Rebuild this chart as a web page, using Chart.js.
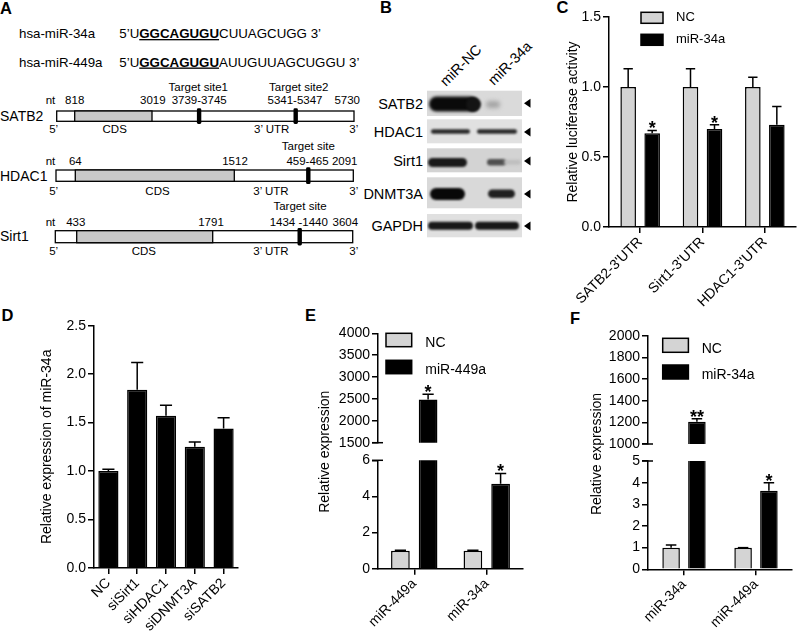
<!DOCTYPE html>
<html>
<head>
<meta charset="utf-8">
<script src="https://cdn.jsdelivr.net/npm/chart.js@4.4.1/dist/chart.umd.min.js"></script>
<style>
  html, body { margin: 0; padding: 0; background: #fff; }
  #fig { position: relative; width: 800px; height: 633px; overflow: hidden; font-family: "Liberation Sans", Arial, sans-serif; }
  #fig canvas, #fig svg { position: absolute; }
</style>
</head>
<body>
<div id="fig">
<svg width="800" height="633" style="left:0;top:0" font-family="Liberation Sans, Arial, sans-serif" fill="#000">
  <!-- panel letters -->
  <g font-size="16.5" font-weight="bold">
    <text x="0" y="13.5">A</text>
    <text x="380" y="13.3">B</text>
    <text x="556.5" y="13.3">C</text>
    <text x="1.5" y="321">D</text>
    <text x="305" y="321">E</text>
    <text x="570" y="323.5">F</text>
  </g>

  <!-- A: sequences -->
  <g font-size="13.3">
    <text x="19" y="38">hsa-miR-34a</text>
    <text x="119.3" y="38">5’U<tspan font-weight="bold" text-decoration="underline">GGCAGUGU</tspan>CUUAGCUGG 3’</text>
    <text x="19" y="66.5">hsa-miR-449a</text>
    <text x="119.3" y="66.5">5’U<tspan font-weight="bold" text-decoration="underline">GGCAGUGU</tspan>AUUGUUAGCUGGU 3’</text>
  </g>
  <g font-size="14">
    <text x="0" y="120.9">SATB2</text>
    <text x="0" y="180.9">HDAC1</text>
    <text x="0" y="240.9">Sirt1</text>
  </g>

  <!-- A: gene maps -->
  <g stroke="#000" stroke-width="1.3">
    <rect x="56.7" y="111" width="297.3" height="10.3" fill="#fff"/>
    <rect x="74.7" y="111" width="77.3" height="10.3" fill="#c8c8c8"/>
    <rect x="56" y="170" width="297.3" height="11.3" fill="#fff"/>
    <rect x="75.3" y="170" width="159" height="11.3" fill="#c8c8c8"/>
    <rect x="55.3" y="230.7" width="297.4" height="12" fill="#fff"/>
    <rect x="76.7" y="230.7" width="136" height="12" fill="#c8c8c8"/>
  </g>
  <g fill="#000">
    <rect x="196.9" y="108.3" width="4.4" height="15.7" rx="1.4"/>
    <rect x="293.5" y="108.3" width="4.4" height="15.7" rx="1.4"/>
    <rect x="306.1" y="167.3" width="4.4" height="16.8" rx="1.4"/>
    <rect x="297.5" y="228" width="4.4" height="17.4" rx="1.4"/>
  </g>
  <g font-size="11.5" text-anchor="middle">
    <text x="198.3" y="90.5">Target site1</text>
    <text x="298.8" y="90.5">Target site2</text>
    <text x="50.5" y="104.3">nt</text>
    <text x="74.7" y="104.3">818</text>
    <text x="152.8" y="104.3">3019</text>
    <text x="199.2" y="104.3">3739-3745</text>
    <text x="295" y="104.3">5341-5347</text>
    <text x="347.2" y="104.3">5730</text>
    <text x="53.7" y="133.2">5’</text>
    <text x="114.7" y="133.2">CDS</text>
    <text x="271.7" y="133.2">3’ UTR</text>
    <text x="353.8" y="133.2">3’</text>

    <text x="308.3" y="149.6">Target site</text>
    <text x="50.5" y="165">nt</text>
    <text x="75.3" y="165">64</text>
    <text x="235" y="165">1512</text>
    <text x="307.5" y="165">459-465</text>
    <text x="344.7" y="165">2091</text>
    <text x="53.7" y="194.5">5’</text>
    <text x="157.5" y="194.5">CDS</text>
    <text x="271" y="194.5">3’ UTR</text>
    <text x="353.8" y="194.5">3’</text>

    <text x="300" y="209.6">Target site</text>
    <text x="50.5" y="225.6">nt</text>
    <text x="75.8" y="225.6">433</text>
    <text x="211" y="225.6">1791</text>
    <text x="298.8" y="225.6">1434 -1440</text>
    <text x="345.3" y="225.6">3604</text>
    <text x="53.7" y="255.2">5’</text>
    <text x="143.8" y="255.2">CDS</text>
    <text x="271" y="255.2">3’ UTR</text>
    <text x="353.8" y="255.2">3’</text>
  </g>

  <!-- B: labels -->
  <g font-size="14.5" text-anchor="end">
    <text x="423" y="108.5">SATB2</text>
    <text x="423" y="136.9">HDAC1</text>
    <text x="423" y="165.9">Sirt1</text>
    <text x="423" y="198.5">DNMT3A</text>
    <text x="423" y="230.9">GAPDH</text>
  </g>
  <text transform="translate(446,87) rotate(-45)" font-size="14.5">miR-NC</text>
  <text transform="translate(494,86) rotate(-45)" font-size="14.5">miR-34a</text>
</svg>

<canvas id="blot" width="112" height="158" style="left:420px;top:85px"></canvas>
<canvas id="cC" width="270" height="320" style="left:530px;top:0px"></canvas>
<canvas id="cD" width="260" height="333" style="left:0px;top:300px"></canvas>
<canvas id="cEl" width="270" height="333" style="left:260px;top:300px"></canvas>
<canvas id="cEu" width="270" height="160" style="left:260px;top:300px"></canvas>
<canvas id="cFl" width="270" height="333" style="left:530px;top:300px"></canvas>
<canvas id="cFu" width="270" height="160" style="left:530px;top:300px"></canvas>
</div>

<script>
// ---- data ----
// C: luciferase
const cLabels = ["SATB2-3'UTR", "Sirt1-3'UTR", "HDAC1-3'UTR"];
const cNC = [1.0, 1.0, 1.0];
const cNCErr = [0.13, 0.13, 0.07];
const cMiR = [0.67, 0.70, 0.73];
const cMiRErr = [0.02, 0.03, 0.13];
const cStars = ['*', '*', ''];

// D: miR-34a after knockdown
const dLabels = ['NC', 'siSirt1', 'siHDAC1', 'siDNMT3A', 'siSATB2'];
const dVals = [1.0, 1.84, 1.57, 1.25, 1.44];
const dErr = [0.02, 0.28, 0.11, 0.05, 0.11];

// E: miR-449a overexpression
const eLabels = ['miR-449a', 'miR-34a'];
const eNC = [1.0, 1.0];
const eNCErr = [0.02, 0.02];
const eMiR = [2490, 4.7];
const eMiRErr = [115, 0.57];
const eStars = ['*', '*'];

// F: miR-34a overexpression
const fLabels = ['miR-34a', 'miR-449a'];
const fNC = [1.0, 1.0];
const fNCErr = [0.12, 0];
const fMiR = [1205, 3.63];
const fMiRErr = [28, 0.37];
const fStars = ['**', '*'];

const FONT = '"Liberation Sans", Arial, sans-serif';
const GREY = '#d4d4d4';
Chart.defaults.font.family = FONT;
Chart.defaults.font.size = 14;
Chart.defaults.color = '#000';

// error bars, stars, legend, axis breaks and free y titles
const decor = {
  id: 'decor',
  afterDraw(chart, args, o) {
    const ctx = chart.ctx, ys = chart.scales.y, a = chart.chartArea;
    ctx.save();
    ctx.strokeStyle = '#000';
    ctx.lineWidth = 1.5;
    chart.data.datasets.forEach((ds, i) => {
      chart.getDatasetMeta(i).data.forEach((bar, j) => {
        const v = ds.data[j];
        if (v < ys.min || v > ys.max) return;
        const e = ds.errors ? ds.errors[j] : 0;
        const yv = ys.getPixelForValue(v), ye = ys.getPixelForValue(v + e);
        const hw = bar.width * 0.3;
        ctx.beginPath();
        ctx.moveTo(bar.x, yv); ctx.lineTo(bar.x, ye);
        ctx.moveTo(bar.x - hw, ye); ctx.lineTo(bar.x + hw, ye);
        ctx.stroke();
        const s = ds.stars && ds.stars[j];
        if (s) {
          ctx.fillStyle = '#000';
          ctx.font = 'bold 18px ' + FONT;
          ctx.textAlign = 'center';
          ctx.textBaseline = 'alphabetic';
          ctx.fillText(s, bar.x, ye + 4);
        }
      });
    });
    if (o.brk) {
      const y = o.brk === 'top' ? a.top : a.bottom;
      ctx.beginPath(); ctx.moveTo(a.left - 6, y); ctx.lineTo(a.left + 5, y); ctx.stroke();
    }
    if (o.legend) {
      const L = o.legend;
      ctx.font = L.size + 'px ' + FONT;
      ctx.textAlign = 'left';
      ctx.textBaseline = 'middle';
      chart.data.datasets.forEach((ds, i) => {
        const bx = a.left + L.dx, by = a.top + L.dy + i * L.gap;
        ctx.fillStyle = ds.backgroundColor;
        ctx.fillRect(bx, by, L.w, L.h);
        ctx.strokeRect(bx, by, L.w, L.h);
        ctx.fillStyle = '#000';
        ctx.fillText(ds.label, a.left + L.tx, by + L.h / 2 + L.ty);
      });
    }
    if (o.ytitle) {
      ctx.translate(o.ytitle.x, o.ytitle.y);
      ctx.rotate(-Math.PI / 2);
      ctx.font = '14px ' + FONT;
      ctx.fillStyle = '#000';
      ctx.textAlign = 'center';
      ctx.textBaseline = 'middle';
      ctx.fillText(o.ytitle.text, 0, 0);
    }
    ctx.restore();
  }
};

function bars(label, data, errors, stars, color, cat, bar) {
  return { label, data, errors, stars, backgroundColor: color, borderColor: '#000',
           borderWidth: 1.5, categoryPercentage: cat, barPercentage: bar, clip: 0 };
}

function yAxis(min, max, step, width, fmt, title) {
  const s = {
    min, max,
    ticks: { stepSize: step, padding: 2, callback: fmt },
    grid: { drawOnChartArea: false, drawTicks: true, tickLength: 6, color: '#000', lineWidth: 1.5 },
    border: { display: true, color: '#000', width: 1.5 },
    afterFit: sc => { sc.width = width; }
  };
  if (title) s.title = { display: true, text: title.text, padding: { top: title.pad, bottom: 0 }, font: { size: 14 } };
  return s;
}

function xAxis(height) {
  if (height == null) return { display: false, offset: true };
  return {
    offset: true,
    ticks: { minRotation: 45, maxRotation: 45, padding: 1, autoSkip: false },
    grid: { offset: false, drawOnChartArea: false, tickLength: 6, color: '#000', lineWidth: 1.5 },
    border: { display: true, color: '#000', width: 1.5 },
    afterFit: sc => { sc.height = height; }
  };
}

function base(pad, scales, dec) {
  return {
    responsive: false, animation: false, events: [],
    layout: { padding: Object.assign({ top: 0, right: 0, bottom: 0, left: 0 }, pad) },
    scales,
    plugins: { legend: { display: false }, tooltip: { enabled: false }, decor: dec }
  };
}

const fix1 = v => v.toFixed(1);
const plain = v => '' + v;

// C
new Chart(document.getElementById('cC'), {
  type: 'bar',
  data: { labels: cLabels, datasets: [
    bars('NC', cNC, cNCErr, null, GREY, 0.77, 0.65),
    bars('miR-34a', cMiR, cMiRErr, cStars, '#000', 0.77, 0.65)
  ] },
  options: base({ top: 17, right: 4 }, {
    x: xAxis(93),
    y: yAxis(0, 1.5, 0.5, 79, fix1, { text: 'Relative luciferase activity', pad: 35 })
  }, { legend: { dx: 32, dy: -4.7, w: 22, h: 11, gap: 22, tx: 67, ty: 0, size: 13 } }),
  plugins: [decor]
});

// D
new Chart(document.getElementById('cD'), {
  type: 'bar',
  data: { labels: dLabels, datasets: [ bars('miR-34a', dVals, dErr, null, '#000', 1.0, 0.7) ] },
  options: base({ top: 25.7, right: 22 }, {
    x: xAxis(65),
    y: yAxis(0, 2.5, 0.5, 94, fix1, { text: 'Relative expression of miR-34a', pad: 39 })
  }, {}),
  plugins: [decor]
});

// E (broken axis: lower + upper)
new Chart(document.getElementById('cEl'), {
  type: 'bar',
  data: { labels: eLabels, datasets: [
    bars('NC', eNC, eNCErr, null, GREY, 0.764, 0.675),
    bars('miR-449a', eMiR, eMiRErr, eStars, '#000', 0.764, 0.675)
  ] },
  options: base({ top: 160.3, right: 7 }, {
    x: xAxis(64.3),
    y: yAxis(0, 6, 2, 118, plain)
  }, { brk: 'top', ytitle: { text: 'Relative expression', x: 65, y: 151.7 } }),
  plugins: [decor]
});
new Chart(document.getElementById('cEu'), {
  type: 'bar',
  data: { labels: eLabels, datasets: [
    bars('NC', eNC, eNCErr, null, GREY, 0.764, 0.675),
    bars('miR-449a', eMiR, eMiRErr, eStars, '#000', 0.764, 0.675)
  ] },
  options: base({ top: 33.3, right: 7, bottom: 17.3 }, {
    x: xAxis(null),
    y: yAxis(1500, 4000, 500, 118, plain)
  }, { brk: 'bottom', legend: { dx: 8, dy: 0, w: 25.7, h: 13.4, gap: 27, tx: 47.3, ty: 3, size: 14 } }),
  plugins: [decor]
});

// F (broken axis: lower + upper)
new Chart(document.getElementById('cFl'), {
  type: 'bar',
  data: { labels: fLabels, datasets: [
    bars('NC', fNC, fNCErr, null, GREY, 0.717, 0.68),
    bars('miR-34a', fMiR, fMiRErr, fStars, '#000', 0.717, 0.68)
  ] },
  options: base({ top: 161, right: 8 }, {
    x: xAxis(63.7),
    y: yAxis(0, 5, 1, 118, plain)
  }, { brk: 'top', ytitle: { text: 'Relative expression', x: 66.7, y: 154 } }),
  plugins: [decor]
});
new Chart(document.getElementById('cFu'), {
  type: 'bar',
  data: { labels: fLabels, datasets: [
    bars('NC', fNC, fNCErr, null, GREY, 0.717, 0.68),
    bars('miR-34a', fMiR, fMiRErr, fStars, '#000', 0.717, 0.68)
  ] },
  options: base({ top: 35.7, right: 8, bottom: 16 }, {
    x: xAxis(null),
    y: yAxis(1000, 2000, 200, 118, plain)
  }, { brk: 'bottom', legend: { dx: 14.7, dy: 2.6, w: 25.7, h: 14, gap: 26.7, tx: 53.7, ty: 3.5, size: 14 } }),
  plugins: [decor]
});

// B: western blot strips
const bctx = document.getElementById('blot').getContext('2d');
bctx.translate(-420, -85);
const blotRows = [[90.7, 116, '#dadada'], [119.3, 143.3, '#e1e1e1'], [148.3, 172.3, '#d3d3d3'],
                  [177.3, 208.3, '#d9d9d9'], [214, 237.3, '#e0e0e0']];
blotRows.forEach(r => { bctx.fillStyle = r[2]; bctx.fillRect(427, r[0], 95, r[1] - r[0]); });
function band(row, x0, x1, y0, y1, col, blur) {
  const r = blotRows[row];
  bctx.save();
  bctx.beginPath(); bctx.rect(427, r[0], 95, r[1] - r[0]); bctx.clip();
  bctx.filter = 'blur(' + blur + 'px)';
  bctx.fillStyle = col;
  bctx.beginPath();
  if (bctx.roundRect) bctx.roundRect(x0, y0, x1 - x0, y1 - y0, (y1 - y0) / 2);
  else bctx.rect(x0, y0, x1 - x0, y1 - y0);
  bctx.fill();
  bctx.restore();
}
band(0, 429, 478, 96.5, 111.5, '#0a0a0a', 1.4);
band(0, 466, 481, 97, 112, '#141414', 1.3);
band(0, 486, 500, 101, 108, '#a5a5a5', 2);
band(1, 431, 470, 129.3, 133.7, '#2a2a2a', 0.8);
band(1, 477, 517, 129.3, 133.7, '#2a2a2a', 0.8);
band(2, 428, 467, 158, 167, '#1a1a1a', 1.1);
band(2, 487, 506, 159, 165.5, '#505050', 1.3);
band(2, 504, 521, 160, 164.5, '#bcbcbc', 1.5);
band(3, 430, 465, 188, 200, '#080808', 1.3);
band(3, 488, 515, 189.5, 198, '#202020', 1.2);
band(4, 428, 473, 221.8, 229.8, '#181818', 1);
band(4, 475, 519, 221.8, 229.8, '#181818', 1);
// arrow heads
bctx.fillStyle = '#000';
[103.3, 132, 161, 194, 226].forEach(y => {
  bctx.beginPath();
  bctx.moveTo(524, y); bctx.lineTo(530.5, y - 4.5); bctx.lineTo(530.5, y + 4.5);
  bctx.closePath(); bctx.fill();
});
</script>
</body>
</html>
